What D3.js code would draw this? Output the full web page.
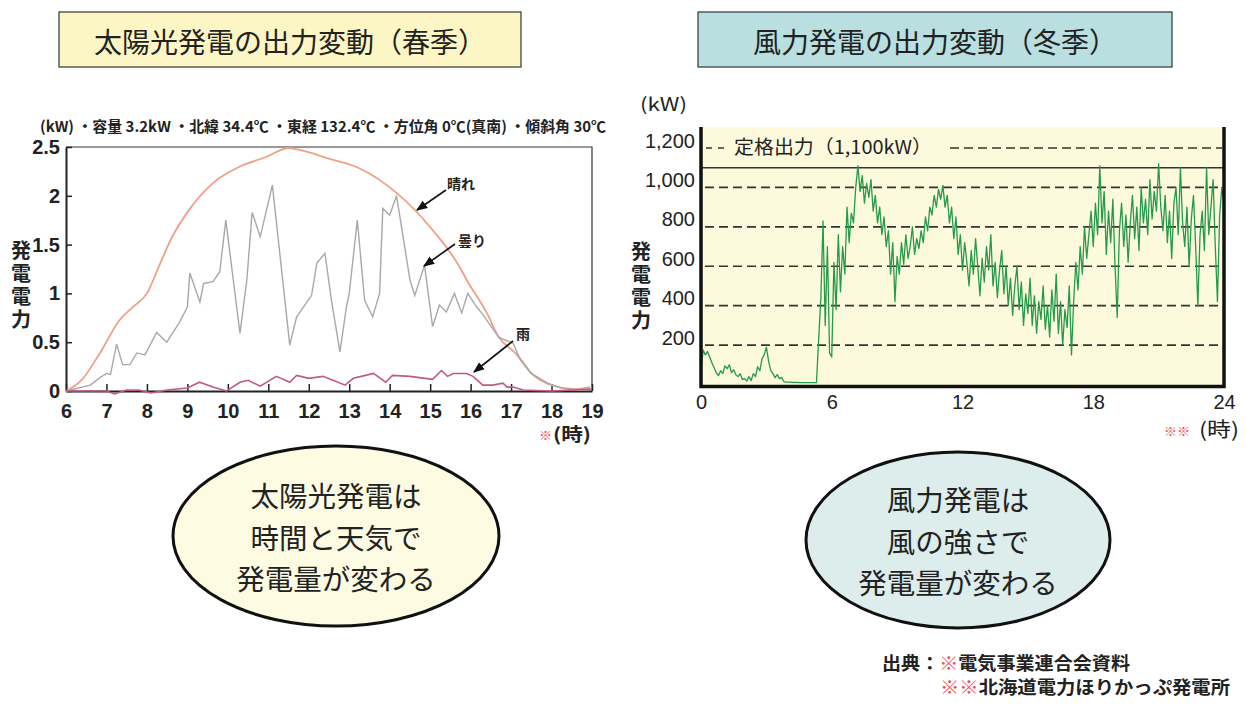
<!DOCTYPE html>
<html><head><meta charset="utf-8">
<script src="https://cdn.jsdelivr.net/npm/d3@7"></script>
<style>
html,body{margin:0;padding:0;background:#fff;}
svg{display:block;}
.jp{font-family:"Noto Sans CJK JP","Noto Sans",sans-serif;}
.num{font-family:"Liberation Sans Narrow","Liberation Sans",Arial,sans-serif;}
</style></head>
<body>
<svg id="c" width="1246" height="714"></svg>
<script>
// ---------- DATA ----------
const solarTitle = "太陽光発電の出力変動（春季）";
const windTitle = "風力発電の出力変動（冬季）";
const solarNote = "(kW) ・容量 3.2kW ・北緯 34.4℃ ・東経 132.4℃ ・方位角 0℃(真南) ・傾斜角 30℃";
const solarXTicks = [6,7,8,9,10,11,12,13,14,15,16,17,18,19];
const solarYTicks = [0,0.5,1,1.5,2,2.5];
const windXTicks = [0,6,12,18,24];
const windYTicks = [200,400,600,800,1000,1200];
const ratedOutput = 1100;

// clear day (hour, kW)
const clearHours = [6,6.4,6.84,7.33,7.65,8.0,8.3,8.6,8.98,9.63,10.3,10.96,11.5,11.78,12.5,13.26,14.17,15.06,15.73,15.9,16.4,16.7,17.1,17.5,18.0,18.6,18.95];
const clearVals  = [0,0.12,0.39,0.73,0.86,1.0,1.28,1.56,1.82,2.13,2.3,2.4,2.49,2.47,2.38,2.28,2.03,1.65,1.27,1.14,0.8,0.55,0.39,0.18,0.06,0.02,0.04];
// cloudy day
const cloudHours = [6,6.6,6.85,7.0,7.1,7.25,7.4,7.58,7.75,7.95,8.24,8.49,8.8,9.0,9.06,9.31,9.4,9.63,9.8,9.95,10.3,10.47,10.6,10.8,11.1,11.53,11.7,12.07,12.2,12.4,12.56,12.77,12.93,13.0,13.2,13.38,13.58,13.75,13.83,14.0,14.17,14.5,14.62,14.86,15.06,15.23,15.4,15.6,15.78,15.93,16.15,16.27,16.7,17.05,17.2,17.5,17.9,18.25,18.6,19];
const cloudVals  = [0,0.06,0.14,0.18,0.17,0.48,0.27,0.27,0.39,0.37,0.6,0.5,0.7,0.86,1.21,0.91,1.1,1.12,1.22,1.75,0.59,1.14,1.83,1.58,2.11,0.47,0.76,0.98,1.31,1.41,0.93,0.4,0.86,1.0,1.75,0.93,0.76,1.0,1.87,1.8,2.0,1.14,0.98,1.29,0.66,0.88,0.81,1.0,0.8,1.0,0.86,0.8,0.55,0.49,0.35,0.18,0.08,0.03,0.01,0.02];
// rainy day
const rainHours = [6,7.0,7.2,7.5,7.8,8.1,8.5,9.0,9.3,9.63,9.97,10.3,10.5,10.8,11.2,11.53,11.7,12.0,12.35,12.6,12.9,13.1,13.3,13.6,13.9,14.07,14.5,15.06,15.28,15.43,15.57,15.9,16.06,16.3,16.55,16.8,16.9,17.05,17.3,18.0,18.5,19];
const rainVals  = [0,0,-0.03,0.01,0.01,-0.02,0.01,0.03,0.09,0.04,0,0.09,0.11,0.05,0.15,0.09,0.16,0.13,0.15,0.11,0.06,0.13,0.15,0.18,0.09,0.16,0.15,0.12,0.21,0.15,0.18,0.18,0.15,0.06,0.06,0.08,0.04,0.04,0.01,0.0,0.01,0.02];

// wind output, kW, every 0.1 h from 0 to 24
const windVals = [
70,175,150,168,140,110,85,60,45,70,
55,95,80,100,60,75,50,40,55,25,
30,18,40,20,55,40,90,70,130,150,
190,120,70,55,35,50,30,35,15,12,
12,12,11,11,11,10,10,10,10,10,
10,10,10,10,230,440,830,300,700,160,
140,620,380,760,470,700,560,900,720,870,
820,1000,1110,980,1060,920,1020,950,1040,880,
960,820,900,760,850,700,780,560,720,420,
650,560,720,610,760,640,700,800,660,740,
690,780,720,850,780,900,860,960,900,990,
940,1010,900,960,820,900,740,850,660,760,
580,720,620,500,680,560,740,600,450,640,
520,700,580,760,500,620,440,580,680,460,
600,400,540,350,500,600,380,520,300,460,
360,540,300,450,260,420,330,500,280,400,
240,480,320,560,260,420,200,380,290,500,
150,420,620,480,700,560,800,640,760,880,
700,920,760,1110,820,980,660,880,720,940,
600,340,780,920,700,860,620,820,960,740,
900,680,1000,820,940,760,1040,840,980,880,
1120,900,780,960,720,880,640,920,1000,760,
1100,820,700,900,600,840,960,700,400,760,
880,680,1100,760,900,1040,700,420,860,1000,
920];

const ellipseLeft = ["太陽光発電は","時間と天気で","発電量が変わる"];
const ellipseRight = ["風力発電は","風の強さで","発電量が変わる"];
const yTitle = "発電電力";

// ---------- DRAW ----------
const svg = d3.select("#c");
const defs = svg.append("defs");
defs.append("marker").attr("id","arr").attr("viewBox","0 0 10 10").attr("refX",9).attr("refY",5)
  .attr("markerWidth",7).attr("markerHeight",7).attr("orient","auto-start-reverse")
  .append("path").attr("d","M0,1 L10,5 L0,9 Z").attr("fill","#111");

// titles
function titleBox(x,y,w,h,fill,txt){
  svg.append("rect").attr("x",x).attr("y",y).attr("width",w).attr("height",h)
    .attr("fill",fill).attr("stroke","#333").attr("stroke-width",1.2);
  svg.append("text").attr("class","jp").attr("x",x+w/2).attr("y",y+h/2+1)
    .attr("text-anchor","middle").attr("dominant-baseline","central")
    .attr("font-size",28).attr("fill","#222").text(txt);
}
titleBox(59,12,462,55,"#fcf6c4",solarTitle);
titleBox(698,12,474,55,"#b9dfe0",windTitle);

// ---- Solar chart ----
const xs = d3.scaleLinear().domain([6,19]).range([66,592]);
const ys = d3.scaleLinear().domain([0,2.5]).range([391,147]);

svg.append("text").attr("class","jp").attr("x",40).attr("y",132)
  .attr("font-size",15).attr("font-weight","bold").attr("fill","#222")
  .attr("textLength",566).attr("lengthAdjust","spacingAndGlyphs").text(solarNote);

// frame
svg.append("path").attr("d",`M${xs(6)},${ys(2.5)}H${xs(19)}V${ys(0)}`)
  .attr("fill","none").attr("stroke","#333").attr("stroke-width",1.2);

const gx = svg.append("g").attr("transform",`translate(0,${ys(0)})`)
  .call(d3.axisBottom(xs).tickValues(solarXTicks).tickSizeInner(-7).tickSizeOuter(0).tickPadding(13).tickFormat(d3.format("d")));
gx.select(".domain").attr("stroke","#222").attr("stroke-width",2);
gx.selectAll(".tick line").attr("stroke","#222").attr("stroke-width",1.5);
gx.selectAll("text").attr("class","num").attr("font-size",20).attr("font-weight","bold").attr("fill","#222");

const gy = svg.append("g").attr("transform",`translate(${xs(6)},0)`)
  .call(d3.axisLeft(ys).tickValues(solarYTicks).tickSizeInner(-6).tickSizeOuter(0).tickPadding(6).tickFormat(d=>String(d)));
gy.select(".domain").attr("stroke","#222").attr("stroke-width",2);
gy.selectAll(".tick line").attr("stroke","#222").attr("stroke-width",1.5);
gy.selectAll("text").attr("class","num").attr("font-size",20).attr("font-weight","bold").attr("fill","#222");

const lineS = (hs,vs,curve)=> d3.line().x((d,i)=>xs(hs[i])).y(d=>ys(d)).curve(curve)(vs);
svg.append("path").attr("d",lineS(clearHours,clearVals,d3.curveMonotoneX))
  .attr("fill","none").attr("stroke","#f0a085").attr("stroke-width",1.8);
svg.append("path").attr("d",lineS(cloudHours,cloudVals,d3.curveLinear))
  .attr("fill","none").attr("stroke","#a8a8a8").attr("stroke-width",1.4);
svg.append("path").attr("d",lineS(rainHours,rainVals,d3.curveLinear))
  .attr("fill","none").attr("stroke","#c05a82").attr("stroke-width",1.6);

// annotations
function ann(tx,ty,txt,x1,y1,x2,y2){
  svg.append("text").attr("class","jp").attr("x",tx).attr("y",ty).attr("dominant-baseline","central")
    .attr("font-size",14).attr("font-weight","bold").attr("fill","#222").text(txt);
  svg.append("line").attr("x1",x1).attr("y1",y1).attr("x2",x2).attr("y2",y2)
    .attr("stroke","#111").attr("stroke-width",1.6).attr("marker-end","url(#arr)");
}
ann(447,183,"晴れ",446,190,417,210);
ann(458,240,"曇り",455,244,424,266);
ann(516,333,"雨",513,341,474,372);

// x unit
svg.append("text").attr("class","jp").attr("x",539).attr("y",434).attr("dominant-baseline","central")
  .attr("font-size",13).attr("fill","#f05050").text("※");
svg.append("text").attr("class","jp").attr("x",553).attr("y",433).attr("dominant-baseline","central")
  .attr("font-size",18).attr("font-weight","bold").attr("fill","#222")
  .attr("textLength",38).attr("lengthAdjust","spacingAndGlyphs").text("(時)");

// y title (vertical)
function vTitle(x,y){
  svg.append("text").attr("class","jp").attr("x",x).attr("y",y)
    .attr("writing-mode","vertical-rl").attr("text-anchor","start")
    .attr("font-size",20).attr("font-weight","bold").attr("letter-spacing",3).attr("fill","#222").text(yTitle);
}
vTitle(21,240);

// ---- Wind chart ----
const xw = d3.scaleLinear().domain([0,24]).range([701,1224]);
const yw = d3.scaleLinear().domain([0,1200]).range([384.5,148]);

svg.append("rect").attr("x",xw(0)).attr("y",127).attr("width",xw(24)-xw(0)).attr("height",yw(0)+2-127)
  .attr("fill","#fdf9dc");

// dashed grid
const gridG = svg.append("g");
windYTicks.filter(d=>d<1200).forEach(v=>{
  gridG.append("line").attr("x1",xw(0)+4).attr("x2",xw(24)-2).attr("y1",yw(v)).attr("y2",yw(v))
    .attr("stroke","#333").attr("stroke-width",1.6).attr("stroke-dasharray","9,5");
});
gridG.append("line").attr("x1",xw(0)+5).attr("x2",724).attr("y1",yw(1200)).attr("y2",yw(1200))
  .attr("stroke","#333").attr("stroke-width",1.6).attr("stroke-dasharray","6,6");
gridG.append("line").attr("x1",950).attr("x2",xw(24)-2).attr("y1",yw(1200)).attr("y2",yw(1200))
  .attr("stroke","#333").attr("stroke-width",1.6).attr("stroke-dasharray","9,5");
gridG.append("line").attr("x1",xw(0)).attr("x2",xw(24)).attr("y1",yw(ratedOutput)).attr("y2",yw(ratedOutput))
  .attr("stroke","#333").attr("stroke-width",1.6);
svg.append("text").attr("class","jp").attr("x",734).attr("y",yw(1200)-3).attr("dominant-baseline","central")
  .attr("font-size",19).attr("fill","#222")
  .attr("textLength",198).attr("lengthAdjust","spacingAndGlyphs").text("定格出力（1,100kW）");

// wind line
svg.append("path").attr("d", d3.line().x((d,i)=>xw(i*0.1)).y(d=>yw(d))(windVals))
  .attr("fill","none").attr("stroke","#259a48").attr("stroke-width",1.3).attr("stroke-linejoin","round");

// thick frame
svg.append("path").attr("d",`M${xw(0)},127V${yw(0)+2}H${xw(24)}V127`)
  .attr("fill","none").attr("stroke","#111").attr("stroke-width",3.5);

const wy = svg.append("g").attr("transform",`translate(${xw(0)-3},0)`)
  .call(d3.axisLeft(yw).tickValues(windYTicks).tickSize(0).tickPadding(3).tickFormat(d3.format(",")));
wy.select(".domain").remove();
wy.selectAll("text").attr("class","num").attr("dy","-0.05em").attr("font-size",20).attr("fill","#222");

const wx = svg.append("g").attr("transform",`translate(0,${yw(0)+4})`)
  .call(d3.axisBottom(xw).tickValues(windXTicks).tickSize(0).tickPadding(6).tickFormat(d3.format("d")));
wx.select(".domain").remove();
wx.selectAll("text").attr("class","num").attr("font-size",20).attr("fill","#222");

svg.append("text").attr("class","jp").attr("x",640).attr("y",103).attr("dominant-baseline","central")
  .attr("font-size",18).attr("fill","#222")
  .attr("textLength",47).attr("lengthAdjust","spacingAndGlyphs").text("(kW)");
svg.append("text").attr("class","jp").attr("x",1164).attr("y",430).attr("dominant-baseline","central")
  .attr("font-size",13).attr("fill","#f05050").text("※※");
svg.append("text").attr("class","jp").attr("x",1199).attr("y",428).attr("dominant-baseline","central")
  .attr("font-size",20).attr("fill","#222")
  .attr("textLength",40).attr("lengthAdjust","spacingAndGlyphs").text("(時)");
vTitle(641,241);

// ---- Ellipses ----
function bubble(cx,cy,rx,ry,fill,lines){
  svg.append("ellipse").attr("cx",cx).attr("cy",cy).attr("rx",rx).attr("ry",ry)
    .attr("fill",fill).attr("stroke","#111").attr("stroke-width",3);
  svg.selectAll(null).data(lines).join("text").attr("class","jp")
    .attr("x",cx).attr("y",(d,i)=>cy-41.5+i*41.5).attr("text-anchor","middle").attr("dominant-baseline","central")
    .attr("font-size",28.5).attr("fill","#222").text(d=>d);
}
bubble(336,536,163,90,"#fdfbe2",ellipseLeft);
bubble(958,540,152,88,"#dcedec",ellipseRight);

// ---- Source ----
const src = svg.append("g").attr("class","jp").attr("font-size",18).attr("font-weight","bold").attr("fill","#222");
src.append("text").attr("x",882).attr("y",662).attr("dominant-baseline","central")
  .attr("textLength",248).attr("lengthAdjust","spacingAndGlyphs")
  .call(t=>{t.append("tspan").text("出典：");t.append("tspan").attr("fill","#f05050").text("※");t.append("tspan").text("電気事業連合会資料");});
src.append("text").attr("x",940).attr("y",686).attr("dominant-baseline","central")
  .attr("textLength",290).attr("lengthAdjust","spacingAndGlyphs")
  .call(t=>{t.append("tspan").attr("fill","#f05050").text("※※");t.append("tspan").text("北海道電力ほりかっぷ発電所");});
</script>
</body></html>
